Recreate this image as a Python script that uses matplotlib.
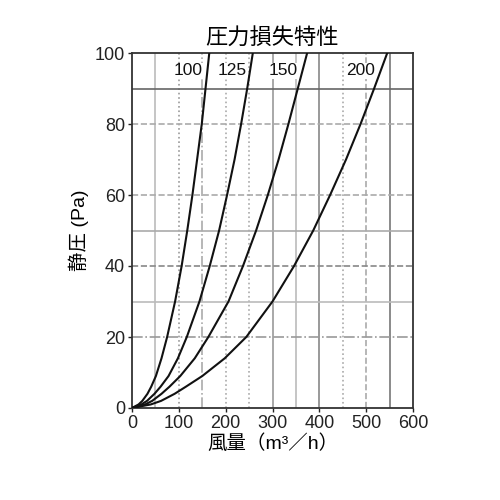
import matplotlib
matplotlib.use("Agg")
import matplotlib.pyplot as plt

plt.rcParams['font.family'] = ['Liberation Sans', 'Noto Sans CJK JP', 'DejaVu Sans']

# Data: flow (m3/h) read at pressures (Pa)
pressure = [0, 1, 2, 4, 6, 9, 14, 20, 30, 40, 50, 60, 70, 80, 90, 100]
flow_100 = [0, 14, 22, 33, 41, 51, 63, 75, 92, 106, 118, 129, 139, 149, 157, 165]
flow_125 = [0, 20, 32, 48, 61, 78, 98, 117, 144, 166, 186, 203, 219, 233, 246, 258]
flow_150 = [0, 28, 43, 63, 80, 103, 134, 163, 206, 237, 265, 290, 313, 334, 354, 374]
flow_200 = [0, 40, 62, 91, 115, 150, 198, 244, 300, 346, 387, 423, 457, 488, 517, 545]
curve_names = ["100", "125", "150", "200"]
label_x = [120, 213, 323, 487]
label_y = [95, 95, 95, 95]

x_ticks = [0, 100, 200, 300, 400, 500, 600]
y_ticks = [0, 20, 40, 60, 80, 100]
vgrid = [50, 100, 150, 200, 250, 300, 350, 400, 450, 500, 550]
hgrid = [20, 30, 40, 50, 60, 80, 90]

fig = plt.figure(figsize=(5, 5), dpi=100)
ax = fig.add_axes([0.264, 0.184, 0.562, 0.71])

vstyles = [('-', '#bbbbbb'), (':', '#999999'), ('-.', '#aaaaaa'), (':', '#aaaaaa'),
           (':', '#aaaaaa'), ('-', '#999999'), ('-', '#bbbbbb'), ('-', '#888888'),
           (':', '#aaaaaa'), ('--', '#aaaaaa'), ('-', '#777777')]
for xv, (ls, c) in zip(vgrid, vstyles):
    ax.axvline(xv, color=c, linestyle=ls, linewidth=1.2, zorder=1)
hstyles = [('-.', '#999999'), ('-', '#bbbbbb'), ('--', '#888888'), ('-', '#aaaaaa'),
           ('--', '#aaaaaa'), ('--', '#aaaaaa'), ('-', '#666666')]
for yv, (ls, c) in zip(hgrid, hstyles):
    ax.axhline(yv, color=c, linestyle=ls, linewidth=1.2, zorder=1)

for fl in [flow_100, flow_125, flow_150, flow_200]:
    ax.plot(fl, pressure, color='#111111', linewidth=1.5, zorder=3,
            solid_joinstyle='round')

for name, lx, ly in zip(curve_names, label_x, label_y):
    ax.text(lx, ly, name, ha='center', va='center', fontsize=12.5, color='#111111',
            zorder=4, bbox=dict(facecolor='white', edgecolor='none', pad=0.5))

ax.set_xlim(0, 600)
ax.set_ylim(0, 100)
ax.set_xticks(x_ticks)
ax.set_yticks(y_ticks)
ax.tick_params(labelsize=13, length=3, width=1, colors='#222222', pad=2)
for s in ax.spines.values():
    s.set_linewidth(1.3)
    s.set_color('#333333')

ax.set_xlabel('風量（m³／h）', fontsize=14, labelpad=2)
ax.set_ylabel('静圧 (Pa)', fontsize=14, labelpad=4)
ax.set_title('圧力損失特性', fontsize=16, pad=6)

fig.savefig('out.png', dpi=100)
